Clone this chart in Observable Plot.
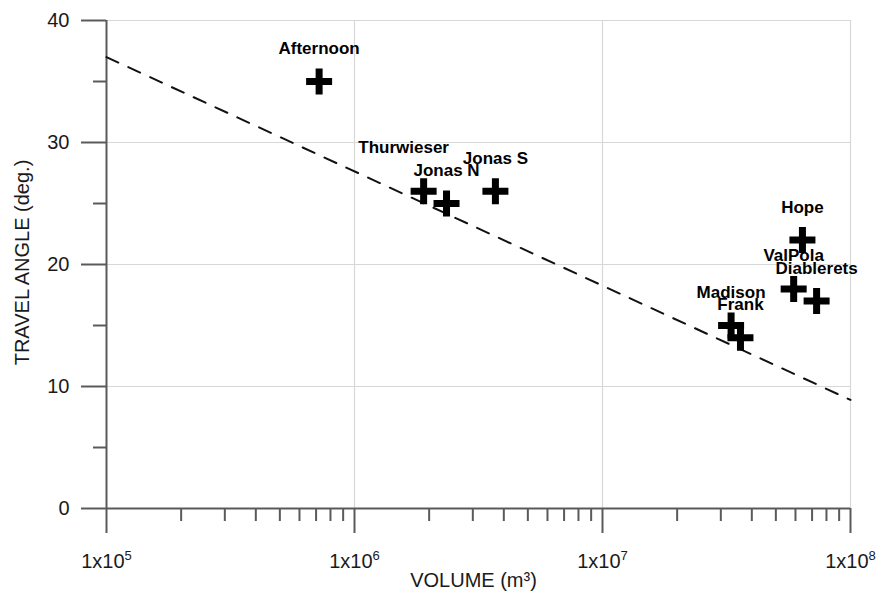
<!DOCTYPE html>
<html><head><meta charset="utf-8">
<script src="https://cdn.jsdelivr.net/npm/d3@7"></script>
<script src="https://cdn.jsdelivr.net/npm/@observablehq/plot@0.6"></script>
<style>body{margin:0;background:#fff}</style>
</head><body><div id="chart"></div>
<script>
// Data
const names = ["Afternoon","Thurwieser","Jonas N","Jonas S","Hope","ValPola","Diablerets","Madison","Frank"];
const volumes = [7.2e5, 1.9e6, 2.35e6, 3.7e6, 6.4e7, 5.9e7, 7.3e7, 3.3e7, 3.6e7];
const angles = [35, 26, 25, 26, 22, 18, 17, 15, 14];
const fitVolumes = [1e5, 1e8];
const fitAngles = [37, 8.9];
const xMajorTicks = [1e5, 1e6, 1e7, 1e8];
const xTickLabels = ["1x10^5", "1x10^6", "1x10^7", "1x10^8"];
const xMinorMultipliers = [2, 3, 4, 5, 6, 7, 8, 9];
const yMajorTicks = [0, 10, 20, 30, 40];
const yMinorTicks = [5, 15, 25, 35];
const xTitle = "VOLUME (m³)";
const yTitle = "TRAVEL ANGLE (deg.)";

const points = names.map((n, i) => ({name: n, volume: volumes[i], angle: angles[i]}));
const fit = fitVolumes.map((v, i) => ({volume: v, angle: fitAngles[i]}));
const xMinorTicks = xMajorTicks.slice(0, -1).flatMap(d => xMinorMultipliers.map(k => k * d));

const axisColor = "#5a5a5a";
const textColor = "#1a1a1a";
const plusSymbol = {
  draw(ctx, size) {
    const r = Math.sqrt(size / Math.PI);
    ctx.moveTo(-r, 0); ctx.lineTo(r, 0);
    ctx.moveTo(0, -r); ctx.lineTo(0, r);
  }
};

const chart = Plot.plot({
  width: 877,
  height: 596,
  marginLeft: 106,
  marginRight: 27,
  marginTop: 20,
  marginBottom: 88,
  style: {fontFamily: "'Liberation Sans', Arial, sans-serif", fontSize: "20px", background: "#fff"},
  x: {type: "log", domain: [1e5, 1e8]},
  y: {domain: [0, 40]},
  marks: [
    Plot.gridX([1e6, 1e7, 1e8], {stroke: "#d8d8d8", strokeOpacity: 1, strokeWidth: 1.2}),
    Plot.gridY([10, 20, 30, 40], {stroke: "#d8d8d8", strokeOpacity: 1, strokeWidth: 1.2}),
    Plot.axisY({ticks: yMajorTicks, tickSize: 25, tickPadding: 12, stroke: axisColor, strokeWidth: 2, fill: textColor, fontSize: 20, label: null}),
    Plot.axisY({ticks: yMinorTicks, tickSize: 13, tickFormat: () => "", stroke: axisColor, strokeWidth: 2, label: null}),
    Plot.axisX({ticks: xMajorTicks, tickSize: 25, tickPadding: 20, stroke: axisColor, strokeWidth: 2, fill: textColor, fontSize: 20, label: null,
      tickFormat: d => xTickLabels[xMajorTicks.indexOf(d)]}),
    Plot.axisX({ticks: xMinorTicks, tickSize: 13, tickFormat: () => "", stroke: axisColor, strokeWidth: 2, label: null}),
    Plot.ruleX([1e5], {stroke: axisColor, strokeWidth: 2}),
    Plot.ruleY([0], {stroke: axisColor, strokeWidth: 2}),
    Plot.line(fit, {x: "volume", y: "angle", stroke: "#111", strokeWidth: 2, strokeDasharray: "13,11"}),
    Plot.dot(points, {x: "volume", y: "angle", symbol: plusSymbol, r: 13, stroke: "#000", strokeWidth: 7, fill: "none"}),
    Plot.text(points.filter(d => d.name !== "Thurwieser"), {x: "volume", y: "angle", text: "name", dy: -33, fontSize: 17, fontWeight: "bold", fill: "#000"}),
    Plot.text(points.filter(d => d.name === "Thurwieser"), {x: "volume", y: "angle", text: "name", dx: -20, dy: -44, fontSize: 17, fontWeight: "bold", fill: "#000"}),
    Plot.text([yTitle], {text: d => d, frameAnchor: "left", textAnchor: "middle", lineAnchor: "middle", dx: -84, dy: -2, rotate: -90, fontSize: 20, fill: textColor}),
    Plot.text([xTitle], {text: d => d, frameAnchor: "bottom", textAnchor: "middle", lineAnchor: "middle", dx: -5, dy: 72, fontSize: 20, fill: textColor})
  ]
});
document.getElementById("chart").appendChild(chart);

// superscript exponents in x tick labels
d3.select(chart).selectAll("text").each(function() {
  const t = this.textContent;
  if (t.includes("^") && this.children.length === 0) {
    const [base, exp] = t.split("^");
    const sel = d3.select(this);
    sel.text("");
    sel.append("tspan").text(base);
    sel.append("tspan").attr("font-size", 13).attr("dy", -8).text(exp);
  }
});
</script>
</body></html>
